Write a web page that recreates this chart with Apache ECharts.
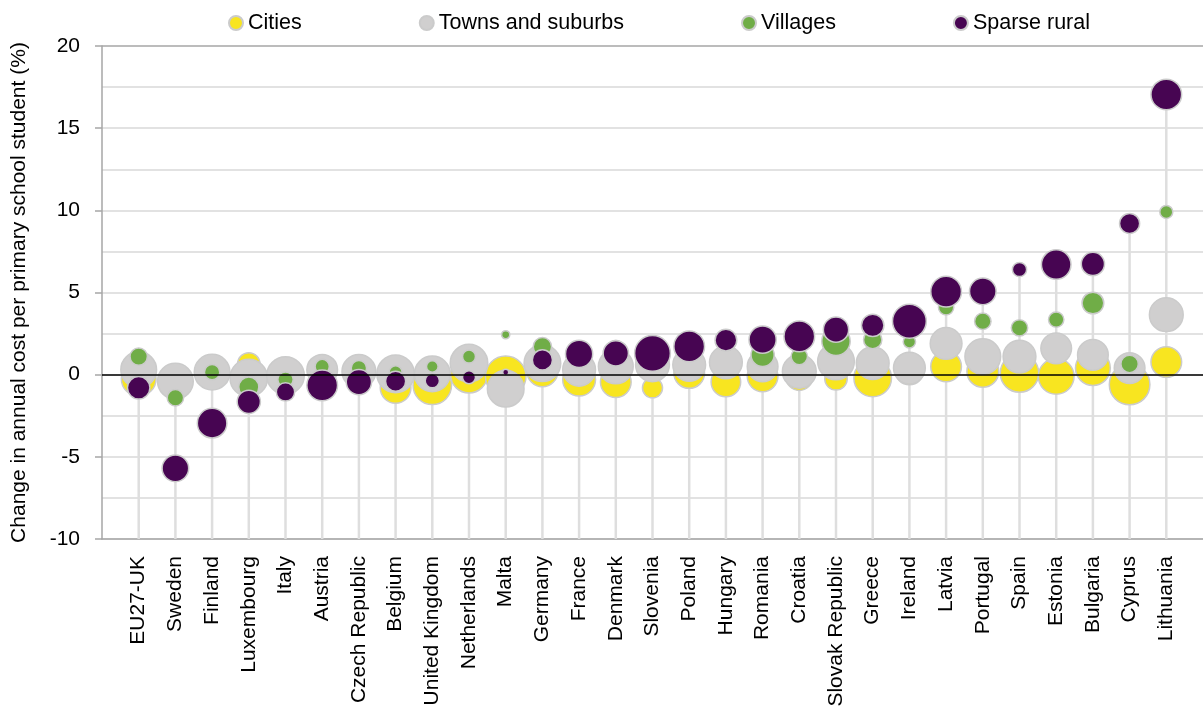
<!DOCTYPE html>
<html>
<head>
<meta charset="utf-8">
<script src="https://cdn.jsdelivr.net/npm/echarts@6/dist/echarts.min.js"></script>
<style>
html,body{margin:0;padding:0;background:#fff;}
#chart{width:1203px;height:712px;}
</style>
</head>
<body>
<div id="chart"></div>
<script>
const categories = ['EU27-UK','Sweden','Finland','Luxembourg','Italy','Austria','Czech Republic','Belgium','United Kingdom','Netherlands','Malta','Germany','France','Denmark','Slovenia','Poland','Hungary','Romania','Croatia','Slovak Republic','Greece','Ireland','Latvia','Portugal','Spain','Estonia','Bulgaria','Cyprus','Lithuania'];

const yTicks = [-10, -5, 0, 5, 10, 15, 20];

// change in annual cost (%)
const cities   = [-0.25,-0.35,0.1,0.65,-0.1,0.2,0.1,-0.8,-0.65,0.0,-0.1,0.2,-0.3,-0.45,-0.8,0.1,-0.45,-0.1,-0.15,-0.25,-0.2,0.25,0.5,0.2,0.1,-0.1,0.4,-0.6,0.77];
const towns    = [0.3,-0.4,0.15,-0.2,-0.05,0.3,0.2,0.05,0.05,0.7,-0.85,0.7,0.3,0.5,0.6,0.6,0.75,0.5,0.2,0.8,0.7,0.4,1.9,1.1,1.1,1.6,1.2,0.4,3.65];
const villages = [1.1,-1.4,0.15,-0.75,-0.3,0.5,0.4,0.15,0.5,1.1,2.43,1.7,1.2,1.6,1.3,1.5,1.95,1.2,1.1,2.03,2.13,2.0,4.1,3.25,2.85,3.35,4.36,0.65,9.9];
const sparse   = [-0.8,-5.7,-2.95,-1.65,-1.05,-0.65,-0.45,-0.4,-0.37,-0.16,0.14,0.9,1.26,1.3,1.3,1.72,2.1,2.13,2.33,2.74,3.0,3.25,5.05,5.07,6.4,6.7,6.74,9.2,17.05];

// bubble weights (share of pupils, %)
const citiesShare   = [36,18,18,15,21,15,15,28,44,40,49,28,32,28,12,28,26,28,21,15,42,24,28,30,44,38,36,49,28];
const townsShare    = [38,38,38,42,42,28,34,42,38,42,40,40,32,36,34,32,32,28,34,40,32,30,30,38,32,28,28,28,34];
const villagesShare = [9,8,7,12,7,6,7,5,4,5,2,10,6,8,6,6,4.5,16,8,24,10,4.5,7,8,8,7,14,9,5];
const sparseShare   = [15,21,26,16,10,28,19,12,6,5,1.1,12,22,19,38,28,14,22,28,19,15,34,28,21,6,26,16,12,28];

const FONT = 'Liberation Sans, Arial, sans-serif';
const YMIN = -10, YMAX = 20;

function pts(vals, shares) {
  return vals.map((v, i) => [i + 1, v, shares[i]]);
}
const dropData = categories.map((c, i) => [i + 1, Math.max(cities[i], towns[i], sparse[i])]);

const bubbleSize = d => 5.8 * Math.sqrt(d[2]);

function bubble(name, color, data) {
  return {
    name: name, type: 'scatter', data: data, symbol: 'circle',
    symbolSize: bubbleSize, z: 3,
    itemStyle: { color: color, borderColor: '#cbcbcb', borderWidth: 1.5, opacity: 1 },
    emphasis: { disabled: true }, animation: false
  };
}

const chart = echarts.init(document.getElementById('chart'), null, { renderer: 'canvas' });
chart.setOption({
  animation: false,
  backgroundColor: '#fff',
  textStyle: { fontFamily: FONT },
  legend: {
    top: 7, left: 223, itemGap: 117, itemWidth: 14, itemHeight: 14,
    icon: 'circle',
    textStyle: { fontFamily: FONT, fontSize: 21.5, color: '#000' },
    data: ['Cities', 'Towns and suburbs', 'Villages', 'Sparse rural']
  },
  grid: { left: 102, right: 0, top: 46, bottom: 173, containLabel: false },
  xAxis: {
    type: 'value', min: 0, max: 30, interval: 1,
    axisLine: { onZero: false, lineStyle: { color: '#a6a6a6', width: 1.5 } },
    axisTick: { show: false },
    splitLine: { show: false },
    axisLabel: {
      rotate: 90, margin: 17, fontSize: 21, color: '#000', fontFamily: FONT,
      formatter: v => categories[v - 1] || ''
    }
  },
  yAxis: {
    type: 'value', min: YMIN, max: YMAX, interval: 5,
    name: 'Change in annual cost per primary school student (%)',
    nameLocation: 'middle', nameGap: 72, nameRotate: 90,
    nameTextStyle: { fontSize: 21, color: '#000', fontFamily: FONT },
    axisLine: { onZero: false, show: true, lineStyle: { color: '#a6a6a6', width: 1.5 } },
    axisTick: { show: true, inside: false, length: 7, lineStyle: { color: '#a6a6a6', width: 1.5 } },
    axisLabel: { margin: 22, fontSize: 21, color: '#000', fontFamily: FONT,
      formatter: v => (yTicks.indexOf(v) >= 0 ? String(v) : '') },
    splitLine: { show: true, lineStyle: { color: ['#d9d9d9','#d9d9d9','#d9d9d9','#d9d9d9','#d9d9d9','#d9d9d9','#a6a6a6'], width: 1.5 } },
    minorTick: { show: false, splitNumber: 2 },
    minorSplitLine: { show: true, lineStyle: { color: '#d9d9d9', width: 1.5 } }
  },
  series: [
    {
      name: 'drop', type: 'custom', z: 1, silent: true, data: dropData,
      renderItem: function (params, api) {
        const top = api.coord([api.value(0), api.value(1)]);
        const bot = api.coord([api.value(0), YMIN]);
        return { type: 'line', shape: { x1: top[0], y1: top[1], x2: bot[0], y2: bot[1] },
                 style: { stroke: '#dedede', lineWidth: 2.5 } };
      },
      markLine: {
        silent: true, symbol: ['none', 'none'], label: { show: false },
        lineStyle: { color: '#000', width: 1.5, type: 'solid' },
        data: [{ yAxis: 0 }]
      },
      animation: false
    },
    bubble('Cities', '#f8e520', pts(cities, citiesShare)),
    bubble('Towns and suburbs', '#d0cfcf', pts(towns, townsShare)),
    bubble('Villages', '#70ad47', pts(villages, villagesShare)),
    bubble('Sparse rural', '#470552', pts(sparse, sparseShare))
  ]
});
</script>
</body>
</html>
